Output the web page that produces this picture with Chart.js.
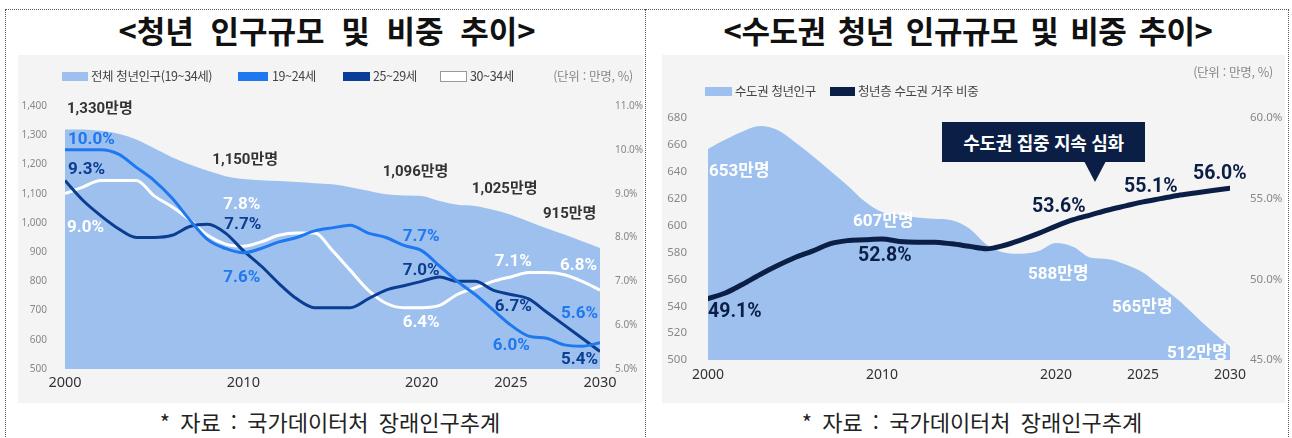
<!DOCTYPE html>
<html lang="ko">
<head>
<meta charset="utf-8">
<script src="https://cdn.jsdelivr.net/npm/chart.js@4.4.1/dist/chart.umd.min.js"></script>
<style>
body { margin:0; width:1292px; height:438px; background:#fff; position:relative; overflow:hidden;
       font-family:"Noto Sans CJK KR","Noto Sans",sans-serif; }
.frame { position:absolute; left:5px; top:9px; width:1282px; height:470px; border:1px dotted #555; }
.divider { position:absolute; left:645px; top:9px; height:470px; border-left:1px dotted #555; }
.title { position:absolute; top:9px; font-weight:700; font-size:31px; line-height:42px; color:#111;
         white-space:nowrap; transform:translateX(-50%); word-spacing:8px; }
.panel { position:absolute; top:55px; height:348px; background:#f4f4f4; }
.panel canvas { position:absolute; left:0; top:0; }
.lg { position:absolute; font-size:12.5px; line-height:16px; color:#444; white-space:nowrap; letter-spacing:-0.4px; }
.box { position:absolute; height:9px; }
.unit { position:absolute; font-size:12.5px; line-height:16px; color:#888; white-space:nowrap; letter-spacing:-0.3px; }
.note { position:absolute; top:406px; font-size:22px; line-height:30px; color:#222; white-space:nowrap;
        transform:translateX(-50%); word-spacing:4px; }
.callout { position:absolute; left:942px; top:122px; width:203px; height:40px; background:#0b1e45; color:#fff;
           font-weight:700; font-size:18px; line-height:40px; text-align:center; letter-spacing:-0.3px; }
.pointer { position:absolute; left:1084px; top:161px; width:0; height:0; border-left:11px solid transparent;
           border-right:11px solid transparent; border-top:21px solid #0b1e45; }
</style>
</head>
<body>
<div class="frame"></div>
<div class="divider"></div>

<div class="title" style="left:327px">&lt;청년 인구규모 및 비중 추이&gt;</div>
<div class="title" style="left:968px; word-spacing:4px; letter-spacing:-0.5px">&lt;수도권 청년 인규규모 및 비중 추이&gt;</div>

<div class="panel" style="left:18px; width:625px"><canvas id="youthChart" width="625" height="348"></canvas></div>
<div class="panel" style="left:662px; width:623px"><canvas id="metroChart" width="623" height="348"></canvas></div>

<!-- 왼쪽 범례 -->
<div class="box" style="left:62px; top:72px; width:26px; background:#9dc0ef"></div>
<div class="lg" style="left:91px; top:68px">전체 청년인구(19~34세)</div>
<div class="box" style="left:238px; top:72px; width:30px; background:#1e78f0"></div>
<div class="lg" style="left:272px; top:68px">19~24세</div>
<div class="box" style="left:343px; top:72px; width:27px; background:#0a3c9a"></div>
<div class="lg" style="left:373px; top:68px">25~29세</div>
<div class="box" style="left:440px; top:71px; width:25px; background:#fff; border:1px solid #999"></div>
<div class="lg" style="left:470px; top:68px">30~34세</div>
<div class="unit" style="right:659px; top:68px">(단위 : 만명, %)</div>

<!-- 오른쪽 범례 -->
<div class="box" style="left:705px; top:87px; width:27px; background:#9dc0ef"></div>
<div class="lg" style="left:735px; top:83px">수도권 청년인구</div>
<div class="box" style="left:830px; top:87px; width:25px; background:#0b1e45"></div>
<div class="lg" style="left:858px; top:83px">청년층 수도권 거주 비중</div>
<div class="unit" style="right:19px; top:64px">(단위 : 만명, %)</div>

<div class="callout">수도권 집중 지속 심화</div>
<div class="pointer"></div>

<div class="note" style="left:330px">* 자료 : 국가데이터처 장래인구추계</div>
<div class="note" style="left:972px">* 자료 : 국가데이터처 장래인구추계</div>

<script>
// 연도 (2000~2030)
const years = [2000, 2001, 2002, 2003, 2004, 2005, 2006, 2007, 2008, 2009,
               2010, 2011, 2012, 2013, 2014, 2015, 2016, 2017, 2018, 2019,
               2020, 2021, 2022, 2023, 2024, 2025, 2026, 2027, 2028, 2029, 2030];
const tickYears = [2000, 2010, 2020, 2025, 2030];
const labelYears = [2000, 2010, 2020, 2025, 2030];

// 전체 청년인구 (만명)
const youthTotal = [1320, 1320, 1315, 1305, 1285, 1255, 1225, 1200, 1178, 1160,
                    1150, 1146, 1143, 1140, 1136, 1132, 1122, 1110, 1098, 1094,
                    1092, 1075, 1062, 1058, 1045, 1028, 1005, 982, 960, 937, 914];
// 연령대별 비중 (%)
const share1924 = [10.0, 10.0, 10.0, 9.9, 9.6, 9.3, 8.9, 8.4, 7.95, 7.75,
                   7.65, 7.75, 7.9, 8.0, 8.15, 8.22, 8.28, 8.1, 8.0, 7.82,
                   7.7, 7.35, 7.0, 6.7, 6.35, 6.0, 5.75, 5.7, 5.55, 5.52, 5.6];
const share2529 = [9.3, 8.85, 8.5, 8.2, 8.0, 8.0, 8.05, 8.25, 8.3, 8.1,
                   7.7, 7.35, 6.95, 6.6, 6.4, 6.4, 6.4, 6.6, 6.8, 6.9,
                   7.0, 7.1, 7.0, 7.0, 6.8, 6.7, 6.6, 6.3, 6.0, 5.7, 5.4];
const share3034 = [9.0, 9.15, 9.3, 9.3, 9.3, 8.95, 8.7, 8.4, 8.05, 7.85,
                   7.8, 7.9, 8.05, 8.1, 8.1, 7.7, 7.25, 6.8, 6.5, 6.4,
                   6.4, 6.45, 6.7, 6.85, 7.0, 7.1, 7.2, 7.2, 7.15, 7.0, 6.8];

// 수도권 청년인구 (만명), 청년층 수도권 거주 비중 (%)
const metroPop = [657, 664, 670, 674, 671, 662, 652, 641, 630, 618,
                  610, 608, 606, 605, 604, 598, 586, 580, 579, 581,
                  587, 584, 576, 575, 571, 565, 555, 545, 533, 521, 510];
const metroShare = [48.8, 49.15, 49.7, 50.3, 50.85, 51.35, 51.75, 52.2, 52.4, 52.45,
                    52.5, 52.35, 52.3, 52.3, 52.2, 52.05, 51.9, 52.1, 52.45, 52.85,
                    53.3, 53.7, 54.0, 54.3, 54.55, 54.8, 55.0, 55.2, 55.35, 55.5, 55.65];

// 데이터 레이블 문구
const totalLabels = ['1,330만명', '1,150만명', '1,096만명', '1,025만명', '915만명'];
const labels1924 = ['10.0%', '7.6%', '7.7%', '6.0%', '5.6%'];
const labels2529 = ['9.3%', '7.7%', '7.0%', '6.7%', '5.4%'];
const labels3034 = ['9.0%', '7.8%', '6.4%', '7.1%', '6.8%'];
const metroPopLabels = ['653만명', '607만명', '588만명', '565만명', '512만명'];
const metroShareLabels = ['49.1%', '52.8%', '53.6%', '55.1%', '56.0%'];

const toPoints = vals => years.map((y, i) => ({ x: y, y: vals[i] }));

// 데이터 위치에 맞춰 레이블을 그리는 플러그인
function makeLabelPlugin(specs) {
    return {
        id: 'valueLabels',
        afterDatasetsDraw(chart) {
            const ctx = chart.ctx;
            const xScale = chart.scales.x;
            specs.forEach(spec => {
                const ds = chart.data.datasets[spec.ds];
                const yScale = chart.scales[ds.yAxisID];
                ctx.save();
                ctx.font = spec.font;
                ctx.fillStyle = spec.color;
                ctx.textAlign = 'left';
                ctx.textBaseline = 'middle';
                labelYears.forEach((yr, i) => {
                    const point = ds.data[years.indexOf(yr)];
                    const x = xScale.getPixelForValue(yr) + spec.offsets[i][0];
                    const y = yScale.getPixelForValue(point.y) + spec.offsets[i][1];
                    ctx.fillText(spec.texts[i], x, y);
                });
                ctx.restore();
            });
        }
    };
}

function xAxis(height, pad, size) {
    return {
        type: 'linear', min: 2000, max: 2030,
        grid: { display: false, drawTicks: false }, border: { display: false },
        afterBuildTicks: scale => { scale.ticks = tickYears.map(v => ({ value: v })); },
        afterFit: scale => { scale.height = height; },
        ticks: { autoSkip: false, maxRotation: 0, padding: pad, color: '#333',
                 font: { family: 'Noto Sans', size: size }, callback: v => String(v) }
    };
}

document.addEventListener('DOMContentLoaded', function() {
    initializeYouthChart();
    initializeMetroChart();
});

function initializeYouthChart() {
    const ctx = document.getElementById('youthChart').getContext('2d');
    const lineBase = { pointRadius: 0, borderWidth: 3, fill: false, cubicInterpolationMode: 'monotone', yAxisID: 'y1' };
    new Chart(ctx, {
        type: 'line',
        data: {
            datasets: [
                Object.assign({ label: '19~24세', data: toPoints(share1924), borderColor: '#1e78f0' }, lineBase),
                Object.assign({ label: '25~29세', data: toPoints(share2529), borderColor: '#0b3d91' }, lineBase),
                Object.assign({ label: '30~34세', data: toPoints(share3034), borderColor: '#ffffff' }, lineBase),
                {
                    label: '전체 청년인구(19~34세)', data: toPoints(youthTotal), yAxisID: 'y',
                    backgroundColor: '#9dc0ef', borderWidth: 0, pointRadius: 0, fill: 'start',
                    cubicInterpolationMode: 'monotone'
                }
            ]
        },
        options: {
            responsive: false, animation: false,
            layout: { padding: { top: 51, left: 0, right: 0, bottom: 0 } },
            plugins: { legend: { display: false }, tooltip: { enabled: false } },
            scales: {
                x: xAxis(34, 5, 14.5),
                y: {
                    position: 'left', min: 500, max: 1400,
                    grid: { display: false }, border: { display: false },
                    afterFit: scale => { scale.width = 47; },
                    ticks: { stepSize: 100, padding: 10, color: '#888', font: { family: 'Noto Sans', size: 10 },
                             callback: v => v.toLocaleString('en-US') }
                },
                y1: {
                    position: 'right', min: 5, max: 11,
                    grid: { display: false }, border: { display: false },
                    afterFit: scale => { scale.width = 43; },
                    ticks: { stepSize: 1, padding: 7, color: '#888', font: { family: 'Noto Sans', size: 10 },
                             callback: v => v.toFixed(1) + '%' }
                }
            }
        },
        plugins: [makeLabelPlugin([
            { ds: 3, texts: totalLabels, color: '#333', font: 'bold 15px Roboto, "Noto Sans CJK KR"',
              offsets: [[2, -20], [-31, -19], [-39, -24], [-39, -25], [-57, -34]] },
            { ds: 0, texts: labels1924, color: '#1e78f0', font: 'bold 17px Roboto',
              offsets: [[3, -10], [-20, 25], [-19, -14], [-18, 21], [-39, -29]] },
            { ds: 1, texts: labels2529, color: '#0b3d91', font: 'bold 17px Roboto',
              offsets: [[3, -11], [-19, -26], [-19, -11], [-16, 12], [-39, 8]] },
            { ds: 2, texts: labels3034, color: '#ffffff', font: 'bold 17px Roboto',
              offsets: [[2, 34], [-20, -42], [-19, 15], [-16, -15], [-40, -24]] }
        ])]
    });
}

function initializeMetroChart() {
    const ctx = document.getElementById('metroChart').getContext('2d');
    new Chart(ctx, {
        type: 'line',
        data: {
            datasets: [
                {
                    label: '청년층 수도권 거주 비중', data: toPoints(metroShare), yAxisID: 'y1',
                    borderColor: '#0b1e45', borderWidth: 5, borderCapStyle: 'round', pointRadius: 0,
                    fill: false, cubicInterpolationMode: 'monotone'
                },
                {
                    label: '수도권 청년인구', data: toPoints(metroPop), yAxisID: 'y',
                    backgroundColor: '#9dc0ef', borderWidth: 0, pointRadius: 0, fill: 'start',
                    cubicInterpolationMode: 'monotone'
                }
            ]
        },
        options: {
            responsive: false, animation: false,
            layout: { padding: { top: 63, left: 0, right: 0, bottom: 0 } },
            plugins: { legend: { display: false }, tooltip: { enabled: false } },
            scales: {
                x: xAxis(43, 7, 14),
                y: {
                    position: 'left', min: 500, max: 680,
                    grid: { display: false }, border: { display: false },
                    afterFit: scale => { scale.width = 46; },
                    ticks: { stepSize: 20, padding: 13, color: '#888', font: { family: 'Noto Sans', size: 11.5 },
                             callback: v => String(v) }
                },
                y1: {
                    position: 'right', min: 45, max: 60,
                    grid: { display: false }, border: { display: false },
                    afterFit: scale => { scale.width = 55; },
                    ticks: { stepSize: 5, padding: 12, color: '#888', font: { family: 'Noto Sans', size: 11.5 },
                             callback: v => v.toFixed(1) + '%' }
                }
            }
        },
        plugins: [makeLabelPlugin([
            { ds: 1, texts: metroPopLabels, color: '#ffffff', font: 'bold 17px Roboto, "Noto Sans CJK KR"',
              offsets: [[1, 23], [-29, 10], [-28, 32], [-31, 35], [-63, 7]] },
            { ds: 0, texts: metroShareLabels, color: '#0b1e45', font: 'bold 19.5px Roboto',
              offsets: [[0, 13], [-24, 17], [-24, -19], [-19, -15], [-37, -14]] }
        ])]
    });
}
</script>
</body>
</html>
